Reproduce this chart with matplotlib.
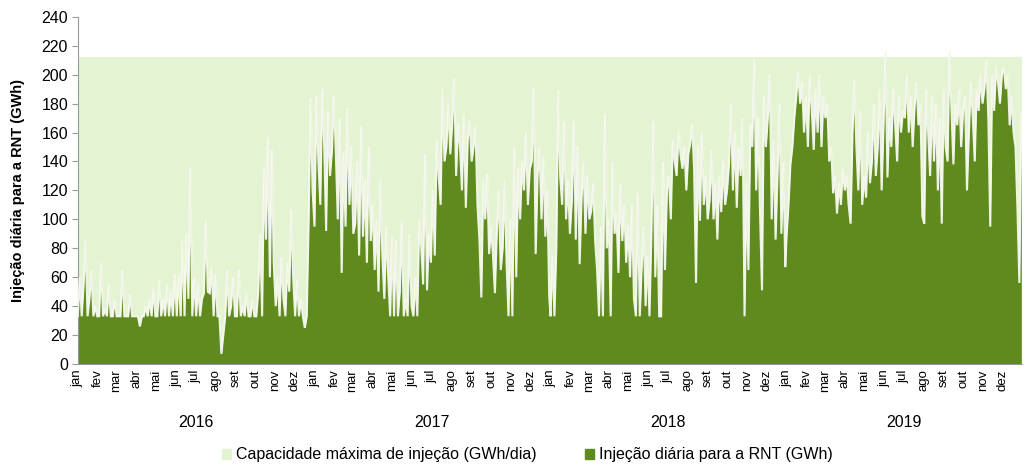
import numpy as np
import pandas as pd
import matplotlib
matplotlib.use("Agg")
import matplotlib.pyplot as plt
from matplotlib.patches import Patch

plt.rcParams['font.family'] = ['Liberation Sans', 'DejaVu Sans']

# injeção diária (GWh), uma leitura a cada 3 dias
inj_2016 = [
    33, 60, 33, 55, 85, 33, 45, 65, 33, 40, 33,      # jan
    33, 70, 33, 38, 33, 55, 33, 33, 45, 33,          # fev
    33, 33, 65, 33, 33, 33, 48, 33, 33, 33,          # mar
    33, 26, 33, 33, 40, 33, 45, 33, 52, 33,          # abr
    33, 58, 33, 45, 33, 55, 33, 50, 33, 62,          # mai
    33, 62, 33, 85, 33, 90, 45, 136, 33, 60,         # jun
    33, 55, 33, 45, 49, 99, 50, 49, 67, 33, 62,      # jul
    33, 33, 7, 20, 33, 65, 33, 40, 60, 33,           # ago
    33, 65, 33, 40, 33, 50, 33, 33, 45, 33,          # set
    33, 50, 90, 33, 136, 86, 157, 60, 148, 70,       # out
    40, 60, 33, 74, 45, 33, 70, 50, 107, 60,         # nov
    33, 58, 33, 45, 33, 25, 33, 100, 184, 120,       # dez
]
inj_2017 = [
    95, 185, 140, 110, 190, 150, 92, 175, 130, 147, 185,
    145, 100, 170, 63, 146, 95, 177, 110, 150, 90,
    97, 140, 75, 164, 88, 127, 70, 150, 85, 110,
    65, 100, 50, 127, 74, 45, 95, 60, 33, 88,
    33, 86, 33, 50, 99, 33, 45, 33, 90, 40,
    33, 60, 33, 99, 81, 55, 145, 51, 90, 70,
    120, 75, 155, 130, 110, 190, 140, 150, 180, 145, 166,
    198, 130, 166, 150, 120, 173, 108, 155, 168, 140,
    150, 164, 110, 86, 46, 127, 100, 131, 76, 95,
    75, 49, 92, 120, 65, 80, 127, 70, 33, 100,
    33, 150, 60, 136, 100, 140, 120, 160, 110, 135,
    140, 191, 76, 130, 150, 100, 143, 88, 120, 46,
]
inj_2018 = [
    33, 75, 33, 80, 189, 129, 110, 168, 100, 127, 90,
    113, 168, 86, 150, 69, 115, 140, 90, 130, 100,
    106, 125, 85, 65, 33, 95, 33, 173, 80, 100,
    33, 140, 90, 104, 63, 125, 85, 110, 70, 96,
    60, 110, 45, 33, 118, 33, 67, 95, 40, 75,
    33, 90, 168, 60, 110, 33, 33, 140, 65, 120,
    130, 100, 155, 140, 130, 161, 145, 135, 150, 120, 145,
    152, 166, 135, 56, 150, 99, 160, 110, 130, 100,
    113, 148, 100, 125, 86, 130, 105, 140, 110, 120,
    138, 180, 120, 160, 108, 150, 130, 170, 33, 125,
    65, 166, 150, 210, 120, 170, 104, 51, 185, 150,
    170, 200, 100, 155, 86, 130, 180, 90, 140, 67,
]
inj_2019 = [
    88, 110, 138, 150, 170, 185, 202, 180, 195, 160, 185,
    150, 200, 175, 148, 190, 160, 200, 150, 185, 170,
    180, 140, 150, 118, 130, 104, 125, 110, 135, 120,
    130, 110, 97, 160, 196, 150, 120, 175, 110, 130,
    115, 160, 125, 140, 180, 130, 150, 190, 120, 165,
    217, 129, 170, 150, 190, 165, 140, 185, 160, 175,
    170, 200, 160, 185, 150, 178, 195, 165, 180, 102, 97,
    190, 160, 130, 185, 140, 180, 120, 170, 97, 190,
    150, 140, 217, 175, 138, 180, 165, 190, 150, 175,
    185, 120, 160, 195, 170, 140, 190, 175, 200, 180,
    190, 210, 170, 95, 200, 175, 205, 195, 180, 200,
    205, 190, 200, 165, 185, 160, 150, 108, 56, 173,
]
capacidade = 212  # GWh/dia

meses = ['jan', 'fev', 'mar', 'abr', 'mai', 'jun',
         'jul', 'ago', 'set', 'out', 'nov', 'dez']
anos = [2016, 2017, 2018, 2019]

series = [inj_2016, inj_2017, inj_2018, inj_2019]
datas = []
valores = []
for ano, vals in zip(anos, series):
    d = pd.date_range(f'{ano}-01-01', periods=len(vals), freq='3D')
    datas.extend(d)
    valores.extend(vals)
datas = pd.DatetimeIndex(datas)
valores = np.array(valores, dtype=float)

inicio = pd.Timestamp('2016-01-01')
fim = pd.Timestamp('2019-12-31')

fig = plt.figure(figsize=(10.24, 4.67), dpi=100)
ax = fig.add_axes([0.076, 0.2205, 0.922, 0.7435])

cor_cap = '#e4f3d1'
cor_inj = '#5e8a1e'

ax.fill_between([inicio, fim], 0, capacidade, color=cor_cap, lw=0, zorder=1)
ax.fill_between(datas, 0, valores, color=cor_inj, lw=0, zorder=2)
ax.plot(datas, valores, color='#f6f9ef', lw=1.5, alpha=0.95, zorder=3,
        solid_joinstyle='miter')

ax.set_xlim(inicio, fim)
ax.set_ylim(0, 240)
ax.set_yticks(np.arange(0, 241, 20))
ax.tick_params(axis='y', labelsize=11.5, length=4, color='#9a9a9a', pad=3)

inicios_mes = pd.date_range('2016-01-01', '2019-12-01', freq='MS')
ax.set_xticks(inicios_mes)
ax.set_xticklabels([meses[d.month - 1] for d in inicios_mes], rotation=90,
                   fontsize=9.5)
ax.tick_params(axis='x', length=0, pad=4)

for s in ['top', 'right']:
    ax.spines[s].set_visible(False)
for s in ['left', 'bottom']:
    ax.spines[s].set_color('#9a9a9a')

trans = ax.get_xaxis_transform()
for ano in anos:
    ax.text(pd.Timestamp(f'{ano}-07-01'), -0.167, str(ano), transform=trans,
            ha='center', va='center', fontsize=11.5)

ax.set_ylabel('Injeção diária para a RNT (GWh)', fontsize=10.5,
              fontweight='bold', labelpad=12)

handles = [Patch(color=cor_cap, label='Capacidade máxima de injeção (GWh/dia)'),
           Patch(color=cor_inj, label='Injeção diária para a RNT (GWh)')]
fig.legend(handles=handles, loc='center', bbox_to_anchor=(0.515, 0.026),
           ncol=2, frameon=False, fontsize=11.5, handlelength=0.6,
           handleheight=0.6, handletextpad=0.3, columnspacing=3.0)

fig.savefig('out.png', dpi=100)
